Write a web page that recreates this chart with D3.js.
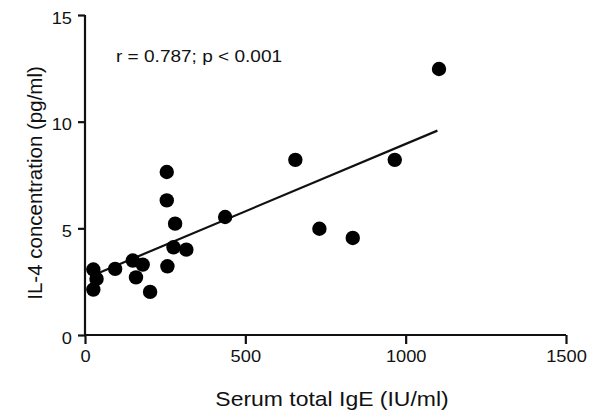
<!DOCTYPE html>
<html>
<head>
<meta charset="utf-8">
<script src="https://cdn.jsdelivr.net/npm/d3@7"></script>
<style>
  body { margin: 0; background: #fff; }
  text { font-family: "Liberation Sans", Arial, sans-serif; fill: #111; }
</style>
</head>
<body>
<div id="chart"></div>
<script>
// serum total IgE (IU/ml) vs IL-4 (pg/ml)
const igE = [26, 36, 26, 94, 149, 159, 180, 203, 255, 255, 257, 276, 281, 316, 437, 656, 731, 835, 966, 1104];
const il4 = [3.07, 2.63, 2.13, 3.10, 3.49, 2.70, 3.30, 2.02, 7.64, 6.31, 3.22, 4.11, 5.22, 4.00, 5.53, 8.21, 4.98, 4.55, 8.21, 12.47];
const fitX = [22, 1099];
const fitY = [2.78, 9.58];
const xTicks = [0, 500, 1000, 1500];
const yTicks = [0, 5, 10, 15];

const W = 605, H = 413;
const margin = { top: 15, right: 39, bottom: 78, left: 85 },
  width = W - margin.left - margin.right,
  height = H - margin.top - margin.bottom;

// the original figure is a bit wider than tall, text looks stretched
const sx = 1.12;

const svg = d3.select("#chart")
  .append("svg")
  .attr("width", W)
  .attr("height", H)
  .append("g")
  .attr("transform", `translate(${margin.left},${margin.top})`);

const x = d3.scaleLinear().domain([0, 1500]).range([0, width]);
const y = d3.scaleLinear().domain([0, 15]).range([height, 0]);

const xAxis = svg.append("g")
  .attr("transform", `translate(0,${height})`)
  .call(d3.axisBottom(x).tickValues(xTicks).tickSize(9).tickPadding(6).tickFormat(d3.format("d")));

const yAxis = svg.append("g")
  .call(d3.axisLeft(y).tickValues(yTicks).tickSize(7).tickPadding(6));

[xAxis, yAxis].forEach(a => {
  a.select(".domain").attr("stroke", "#111").attr("stroke-width", 2.2);
  a.selectAll(".tick line").attr("stroke", "#111").attr("stroke-width", 2.2);
  a.selectAll(".tick text")
    .style("font-family", "'Liberation Sans', Arial, sans-serif")
    .style("font-size", "16.3px")
    .attr("fill", "#111")
    .attr("transform", `scale(${sx},1)`);
});
yAxis.selectAll(".tick text").attr("x", -13 / sx).attr("dy", "0.5em");
xAxis.selectAll(".tick text").attr("y", 16).attr("dy", "0.71em").attr("y", 15);

xAxis.select(".domain").attr("d", `M0,0H${width}`);
yAxis.select(".domain").attr("d", `M0,${height}V0`);

// regression line
svg.append("line")
  .attr("x1", x(fitX[0])).attr("y1", y(fitY[0]))
  .attr("x2", x(fitX[1])).attr("y2", y(fitY[1]))
  .attr("stroke", "#111")
  .attr("stroke-width", 2.2);

svg.append("g")
  .selectAll("circle")
  .data(igE.map((v, i) => [v, il4[i]]))
  .join("circle")
  .attr("cx", d => x(d[0]))
  .attr("cy", d => y(d[1]))
  .attr("r", 7.2)
  .attr("fill", "#000");

function label(px, py, txt, size, anchor) {
  svg.append("g")
    .attr("transform", `translate(${px},${py}) scale(${sx},1)`)
    .append("text")
    .attr("text-anchor", anchor)
    .style("font-size", size + "px")
    .text(txt);
}

label(116 - margin.left, 62 - margin.top, "r = 0.787; p < 0.001", 17, "start");
label(332 - margin.left, 406 - margin.top, "Serum total IgE (IU/ml)", 20.5, "middle");

svg.append("text")
  .attr("text-anchor", "middle")
  .attr("transform", "rotate(-90)")
  .attr("x", -(183 - margin.top))
  .attr("y", 42 - margin.left)
  .style("font-size", "20.5px")
  .text("IL-4 concentration (pg/ml)");
</script>
</body>
</html>
